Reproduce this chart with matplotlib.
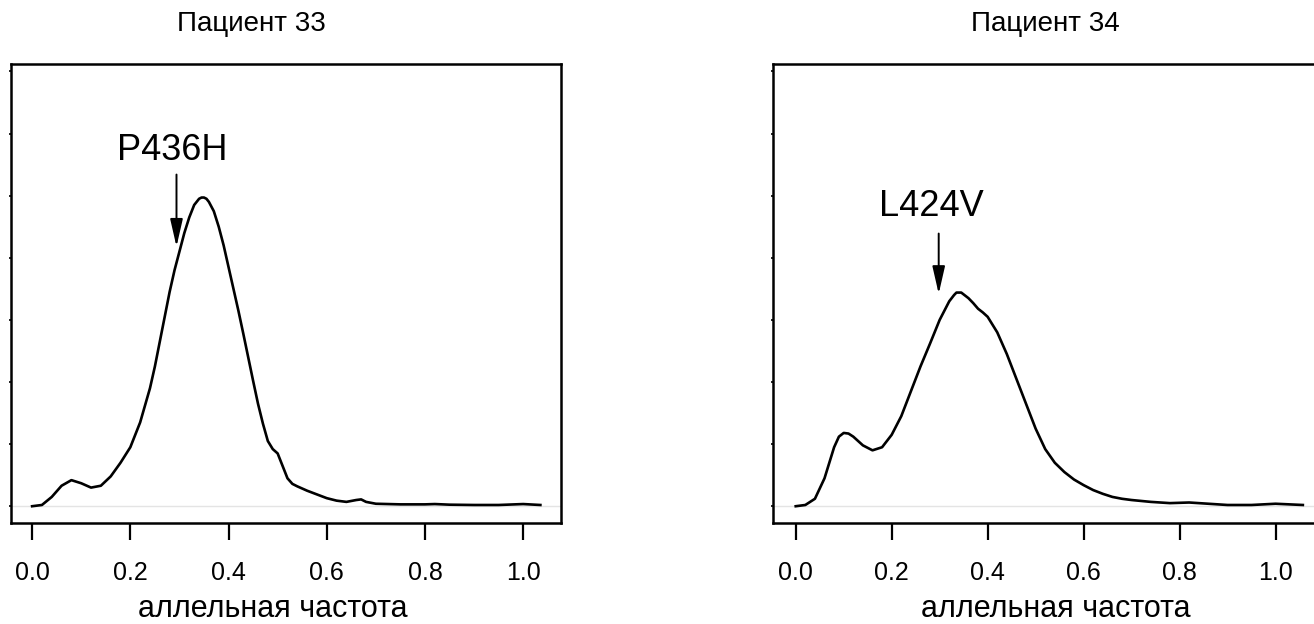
import numpy as np
import matplotlib
matplotlib.use('Agg')
import matplotlib.pyplot as plt

plt.rcParams['font.family'] = ['Liberation Sans', 'DejaVu Sans']

# density curves (allele frequency -> density)
freq33 = [0.00, 0.02, 0.04, 0.06, 0.08, 0.10, 0.12, 0.14, 0.16, 0.18, 0.20,
          0.22, 0.24, 0.25, 0.26, 0.27, 0.28, 0.29, 0.30, 0.31, 0.32, 0.33,
          0.34, 0.345, 0.35, 0.355, 0.36, 0.37, 0.38, 0.39, 0.40, 0.41, 0.42,
          0.43, 0.44, 0.45, 0.46, 0.47, 0.48, 0.49, 0.50, 0.51, 0.52, 0.53,
          0.54, 0.56, 0.58, 0.60, 0.62, 0.64, 0.66, 0.67, 0.68, 0.70, 0.75,
          0.80, 0.82, 0.85, 0.90, 0.95, 1.00, 1.035]
dens33 = [0.00, 0.02, 0.15, 0.33, 0.42, 0.37, 0.30, 0.33, 0.48, 0.70, 0.95,
          1.35, 1.90, 2.25, 2.65, 3.05, 3.45, 3.80, 4.10, 4.40, 4.65, 4.85,
          4.95, 4.97, 4.97, 4.95, 4.90, 4.75, 4.50, 4.20, 3.85, 3.50, 3.15,
          2.78, 2.40, 2.02, 1.65, 1.33, 1.05, 0.92, 0.85, 0.65, 0.45, 0.36,
          0.32, 0.25, 0.19, 0.13, 0.09, 0.07, 0.10, 0.11, 0.07, 0.04, 0.03,
          0.03, 0.035, 0.025, 0.02, 0.02, 0.035, 0.02]

freq34 = [0.00, 0.02, 0.04, 0.06, 0.08, 0.09, 0.10, 0.11, 0.12, 0.14, 0.16,
          0.18, 0.20, 0.22, 0.24, 0.26, 0.28, 0.30, 0.32, 0.33, 0.335, 0.345,
          0.35, 0.36, 0.37, 0.38, 0.39, 0.40, 0.42, 0.44, 0.46, 0.48, 0.50,
          0.52, 0.54, 0.56, 0.58, 0.60, 0.62, 0.64, 0.66, 0.68, 0.70, 0.74,
          0.78, 0.82, 0.86, 0.90, 0.95, 1.00, 1.057]
dens34 = [0.00, 0.02, 0.12, 0.45, 0.95, 1.12, 1.18, 1.17, 1.12, 0.98, 0.90,
          0.95, 1.15, 1.45, 1.85, 2.25, 2.62, 3.00, 3.30, 3.40, 3.44, 3.44,
          3.41, 3.35, 3.27, 3.18, 3.12, 3.05, 2.80, 2.45, 2.05, 1.65, 1.25,
          0.92, 0.70, 0.55, 0.43, 0.34, 0.26, 0.20, 0.15, 0.12, 0.10, 0.07,
          0.05, 0.06, 0.04, 0.02, 0.02, 0.04, 0.02]

titles = ['Пациент 33', 'Пациент 34']
mutations = ['P436H', 'L424V']
mut_freq = [0.294, 0.298]
xlabel = 'аллельная частота'
xticks = [0.0, 0.2, 0.4, 0.6, 0.8, 1.0]
yticks = [0, 1, 2, 3, 4, 5, 6, 7]

W, H = 1314, 624
fig = plt.figure(figsize=(W / 100, H / 100), dpi=100)

ax1 = fig.add_axes([11 / W, (H - 523) / H, 550 / W, 459 / H])
ax2 = fig.add_axes([772.7 / W, (H - 523) / H, 550.3 / W, 459 / H])

panels = [
    (ax1, freq33, dens33, (-0.043, 1.077), (4.18, 5.34), 0.285, 5.58, 251, 273),
    (ax2, freq34, dens34, (-0.048, 1.099), (3.42, 4.39), 0.283, 4.68, 1045, 1056),
]

for i, (ax, fx, dy, xl, arr, tx, ty, title_x, lab_x) in enumerate(panels):
    ax.axhline(0, color='#e4e4e4', lw=1.0, zorder=1)
    ax.plot(fx, dy, color='black', lw=1.9, solid_joinstyle='round', zorder=3)
    ax.set_xlim(*xl)
    ax.set_ylim(-0.27, 7.12)
    ax.set_xticks(xticks)
    ax.set_xticklabels(['%.1f' % t for t in xticks], fontsize=18)
    ax.set_yticks(yticks)
    ax.set_yticklabels([])
    ax.tick_params('x', length=12, width=1.6, pad=15, direction='out')
    ax.tick_params('y', length=1.5, width=1.2, direction='out')
    for sp in ax.spines.values():
        sp.set_linewidth(1.8)
        sp.set_color('black')

    ax.annotate('', xy=(mut_freq[i], arr[0]), xytext=(mut_freq[i], arr[1]),
                arrowprops=dict(arrowstyle='-|>,head_length=1.4,head_width=0.32',
                                mutation_scale=12, color='black', lw=1.4,
                                shrinkA=0, shrinkB=0))
    ax.text(tx, ty, mutations[i], fontsize=26, ha='center', va='baseline')

    fig.text(title_x / W, 1 - 24 / H, titles[i], fontsize=20,
             ha='center', va='center')
    fig.text(lab_x / W, 1 - 609 / H, xlabel, fontsize=22,
             ha='center', va='center')

fig.savefig('out.png', dpi=100)
